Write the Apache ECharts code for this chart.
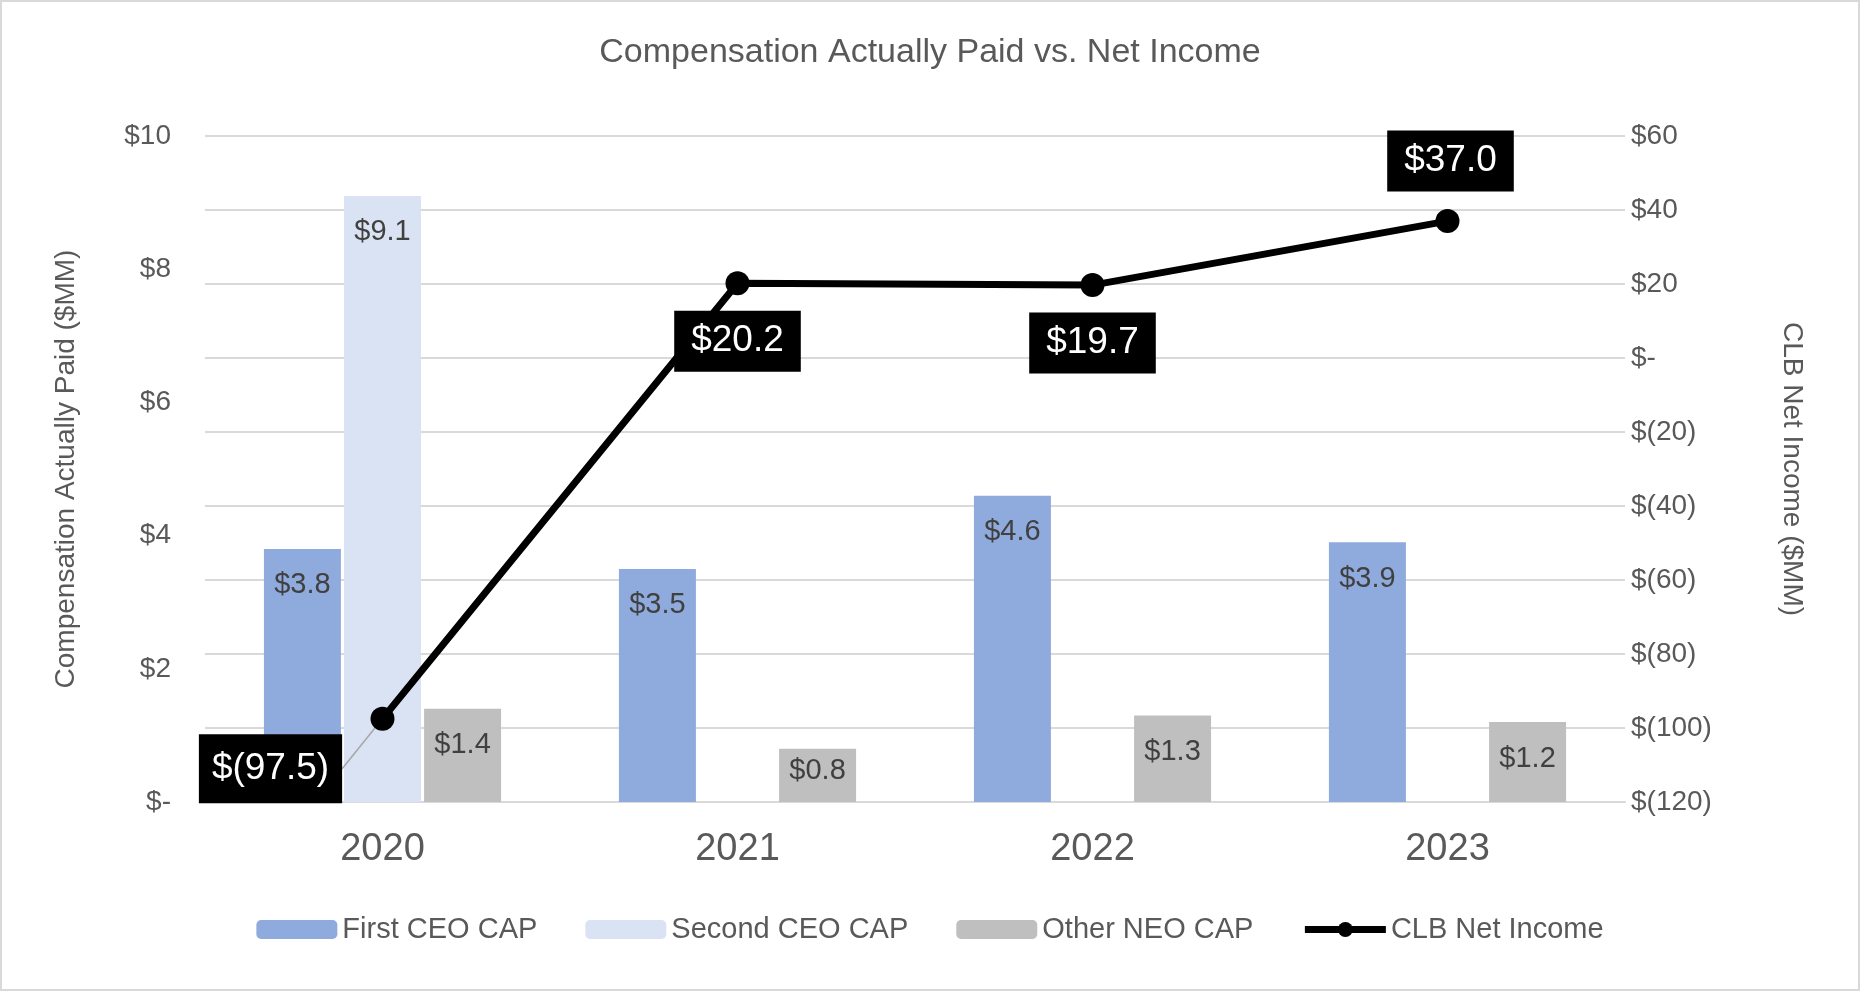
<!DOCTYPE html>
<html>
<head>
<meta charset="utf-8">
<script src="https://cdn.jsdelivr.net/npm/echarts@6/dist/echarts.min.js"></script>
<style>
  html, body { margin: 0; padding: 0; background: #fff; }
  #chart { width: 1860px; height: 991px; box-sizing: border-box; border: 2px solid #D9D9D9; }
</style>
</head>
<body>
<div id="chart"></div>
<script>
const categories = ['2020', '2021', '2022', '2023'];
const firstCeoCap = [3.8, 3.5, 4.6, 3.9];
const secondCeoCap = [9.1, null, null, null];
const otherNeoCap = [1.4, 0.8, 1.3, 1.2];
const netIncome = [-97.5, 20.2, 19.7, 37.0];
const leftTicks = { min: 0, max: 10, interval: 2 };
const rightTicks = { min: -120, max: 60, interval: 20 };

// label shifts for the net income callouts (style only)
const lineLabelShift = [[-112, 50], [0, 58], [0, 58], [3, -60]];

const FONT = '"Liberation Sans", Arial, sans-serif';
const GREY = '#595959';

function money(v) {
  if (v === 0) return '$-';
  return v < 0 ? '$(' + Math.abs(v) + ')' : '$' + v;
}
function money1(v) {
  return v < 0 ? '$(' + Math.abs(v).toFixed(1) + ')' : '$' + v.toFixed(1);
}

const barLabel = {
  show: true,
  position: 'insideTop',
  distance: 22,
  fontSize: 29,
  fontFamily: FONT,
  color: '#404040',
  formatter: p => money1(p.value)
};

function barItems(arr) {
  return arr.map(v => (v !== null && v < 1) ? { value: v, label: { distance: 8 } } : v);
}

const chart = echarts.init(document.getElementById('chart'));
chart.setOption({
  animation: false,
  backgroundColor: '#fff',
  textStyle: { fontFamily: FONT },
  title: {
    text: 'Compensation Actually Paid vs. Net Income',
    left: 'center',
    top: 29,
    textStyle: { fontSize: 34, fontWeight: 'normal', color: GREY, fontFamily: FONT }
  },
  legend: {
    bottom: 40,
    left: 'center',
    itemWidth: 81,
    itemHeight: 19,
    itemGap: 48,
    textStyle: { fontSize: 29, color: GREY, fontFamily: FONT },
    data: [
      'First CEO CAP',
      'Second CEO CAP',
      'Other NEO CAP',
      { name: 'CLB Net Income', lineStyle: { width: 7, color: '#000' }, itemStyle: { color: '#000' } }
    ]
  },
  grid: { left: 203, right: 233, top: 134, bottom: 187 },
  xAxis: {
    type: 'category',
    data: categories,
    axisTick: { show: false },
    axisLine: { show: true, lineStyle: { color: '#D9D9D9', width: 2 } },
    axisLabel: { fontSize: 38, color: GREY, margin: 29, fontFamily: FONT }
  },
  yAxis: [
    {
      type: 'value',
      min: leftTicks.min, max: leftTicks.max, interval: leftTicks.interval,
      position: 'left',
      name: 'Compensation Actually Paid ($MM)',
      nameLocation: 'middle',
      nameRotate: 90,
      nameGap: 125,
      nameTextStyle: { fontSize: 28, color: GREY, fontFamily: FONT },
      axisLine: { show: false },
      axisTick: { show: false },
      splitLine: { show: false },
      axisLabel: { fontSize: 28, color: GREY, margin: 34, fontFamily: FONT, formatter: money }
    },
    {
      type: 'value',
      min: rightTicks.min, max: rightTicks.max, interval: rightTicks.interval,
      position: 'right',
      name: 'CLB Net Income ($MM)',
      nameLocation: 'middle',
      nameRotate: -90,
      nameGap: 153,
      nameTextStyle: { fontSize: 28, color: GREY, fontFamily: FONT },
      axisLine: { show: false },
      axisTick: { show: false },
      splitLine: { show: true, lineStyle: { color: '#D9D9D9', width: 2 } },
      axisLabel: { fontSize: 28, color: GREY, margin: 6, fontFamily: FONT, formatter: money }
    }
  ],
  series: [
    {
      name: 'First CEO CAP', type: 'bar', yAxisIndex: 0,
      data: barItems(firstCeoCap), barWidth: 77, barGap: '4%',
      itemStyle: { color: '#8FAADC' }, label: barLabel
    },
    {
      name: 'Second CEO CAP', type: 'bar', yAxisIndex: 0,
      data: barItems(secondCeoCap), barWidth: 77, barGap: '4%',
      itemStyle: { color: '#DAE3F3' }, label: barLabel
    },
    {
      name: 'Other NEO CAP', type: 'bar', yAxisIndex: 0,
      data: barItems(otherNeoCap), barWidth: 77, barGap: '4%',
      itemStyle: { color: '#BFBFBF' }, label: barLabel
    },
    {
      name: 'CLB Net Income', type: 'line', yAxisIndex: 1,
      data: netIncome.map((v, i) => i === 0
        ? { value: v, labelLine: { show: true }, label: { padding: [16, 13] } }
        : { value: v, labelLine: { show: false } }),
      symbol: 'circle', symbolSize: 24,
      lineStyle: { color: '#000', width: 7 },
      itemStyle: { color: '#000' },
      z: 5,
      label: {
        show: true,
        position: 'inside',
        fontSize: 37,
        fontFamily: FONT,
        color: '#fff',
        backgroundColor: '#000',
        padding: [12, 17],
        formatter: p => money1(p.value)
      },
      labelLine: { show: false, lineStyle: { color: '#A6A6A6', width: 1.5 } },
      labelLayout: function (params) {
        const s = lineLabelShift[params.dataIndex];
        return { dx: s[0], dy: s[1] };
      }
    }
  ]
});
</script>
</body>
</html>
